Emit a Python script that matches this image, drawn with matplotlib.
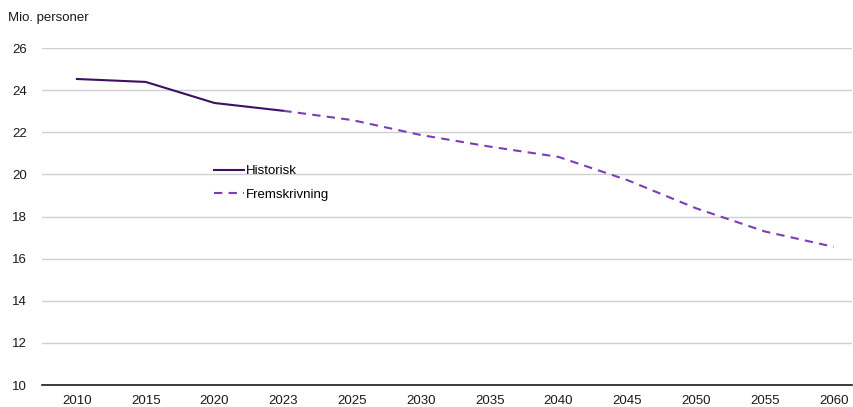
import matplotlib
matplotlib.use("Agg")
import matplotlib.pyplot as plt

plt.rcParams['font.family'] = ['Liberation Sans', 'DejaVu Sans']

years = ['2010', '2015', '2020', '2023', '2025', '2030', '2035',
         '2040', '2045', '2050', '2055', '2060']
historisk = [24.53, 24.39, 23.39, 23.02]
fremskrivning = [23.02, 22.58, 21.87, 21.32, 20.83, 19.73, 18.39, 17.29, 16.56]

x = list(range(len(years)))

fig = plt.figure(figsize=(8.54, 4.07), dpi=100)
ax = fig.add_axes([0.049, 0.054, 0.949, 0.828])

ax.plot(x[:4], historisk, color='#3f0f63', lw=1.5, label='Historisk')
ax.plot(x[3:], fremskrivning, color='#7b3db8', lw=1.5, ls=(0, (4, 3)),
        label='Fremskrivning')

ax.set_ylim(10, 26)
ax.set_xlim(-0.51, 11.27)
ax.set_yticks(range(10, 27, 2))
ax.set_xticks(x)
ax.set_xticklabels(years)
ax.tick_params(length=0, labelsize=9.5, colors='#1a1a1a')
ax.tick_params(axis='y', pad=11)
ax.tick_params(axis='x', pad=7)
ax.grid(axis='y', color='#d0d0d0', lw=1)
ax.set_axisbelow(True)
for s in ['left', 'right', 'top']:
    ax.spines[s].set_visible(False)
ax.spines['bottom'].set_color('#1a1a1a')
ax.spines['bottom'].set_linewidth(1.2)

fig.text(0.009, 0.955, 'Mio. personer', fontsize=9.5, color='#1a1a1a', va='center')

ax.legend(loc='upper left', bbox_to_anchor=(0.206, 0.668), frameon=False,
          fontsize=9.5, handlelength=2.3, handletextpad=0.1, labelspacing=0.85,
          borderaxespad=0)

fig.savefig('out.png', dpi=100)
